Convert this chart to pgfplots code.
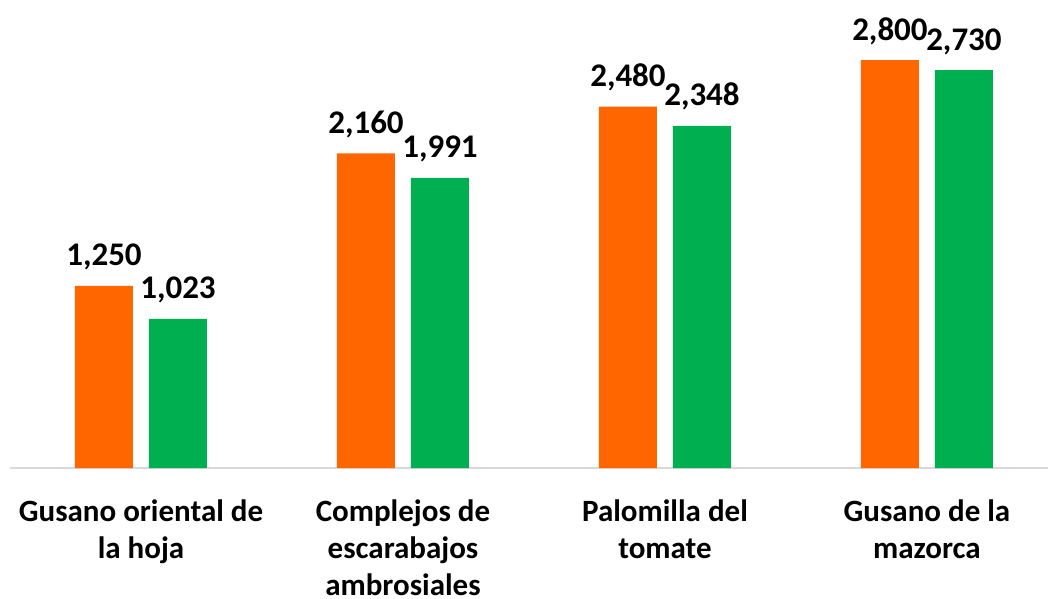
\documentclass[border=0pt]{standalone}
\usepackage{pgfplots}
\pgfplotsset{compat=1.18}
\usepackage{fontspec}
\setmainfont{Carlito}
\definecolor{cOr}{HTML}{FF6600}
\definecolor{cGr}{HTML}{00B050}
\definecolor{cAx}{HTML}{D9D9D9}
\begin{document}
\begin{tikzpicture}
\begin{axis}[
  at={(10bp,131bp)}, anchor=south west,
  scale only axis, width=1038bp, height=468bp,
  xmin=-0.5, xmax=3.462, ymin=0, ymax=3212,
  axis y line=none, axis x line*=bottom,
  x axis line style={draw=cAx, line width=1.8bp},
  xtick={0,1,2,3}, major tick length=0pt,
  xticklabels={{Gusano oriental de\\la hoja},{Complejos de\\escarabajos\\ambrosiales},{Palomilla del\\tomate},{Gusano de la\\mazorca}},
  xticklabel style={font=\fontsize{31bp}{37bp}\selectfont\bfseries, align=center, anchor=north, yshift=-28bp},
  ybar, bar width=58bp,
  nodes near coords={\pgfmathprintnumber[fixed,precision=0,1000 sep={,}]{\pgfplotspointmeta}},
  every node near coord/.append style={font=\fontsize{33bp}{38bp}\selectfont\bfseries, anchor=base, yshift=20bp, inner sep=0pt, text=black},
  /pgf/number format/assume math mode=true,
  clip=false,
]
\addplot[draw=none, fill=cOr, bar shift=-37bp] coordinates {(0,1250) (1,2160) (2,2480) (3,2800)};
\addplot[draw=none, fill=cGr, bar shift=37bp] coordinates {(0,1023) (1,1991) (2,2348) (3,2730)};
\end{axis}
\pgfresetboundingbox
\path[use as bounding box] (0,0) rectangle (1048bp,599bp);
\end{tikzpicture}
\end{document}
